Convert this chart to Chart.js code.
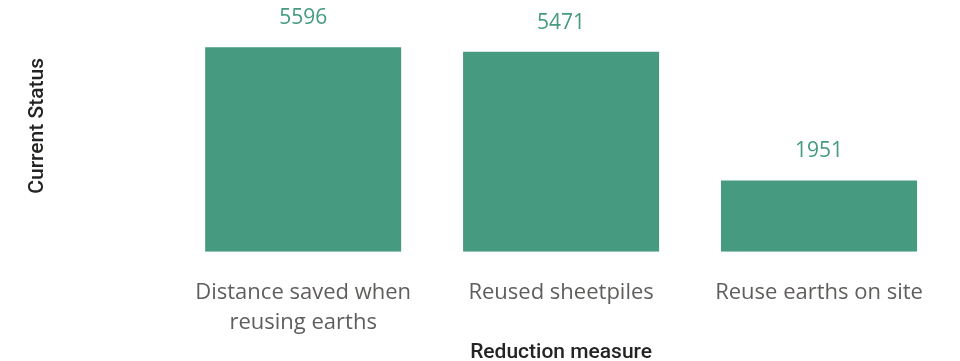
<!DOCTYPE html>
<html>
<head>
<meta charset="utf-8">
<script src="https://cdn.jsdelivr.net/npm/chart.js@4"></script>
<style>
  html, body { margin: 0; padding: 0; background: #fff; }
  #wrap { width: 960px; height: 361px; }
</style>
</head>
<body>
<div id="wrap"><canvas id="barchart"></canvas></div>
<script>
const categories = [
  ['Distance saved when', 'reusing earths'],
  ['Reused sheetpiles'],
  ['Reuse earths on site']
];
const values = [5596, 5471, 1951];
const barColor = '#459A80';

// draws the value above each bar
const valueLabels = {
  id: 'valueLabels',
  afterDatasetsDraw(chart) {
    const c = chart.ctx;
    const meta = chart.getDatasetMeta(0);
    c.save();
    c.font = '21px "Open Sans"';
    c.fillStyle = '#459A80';
    c.textAlign = 'center';
    c.textBaseline = 'middle';
    meta.data.forEach((bar, i) => {
      c.fillText(String(values[i]), bar.x, bar.y - 29);
    });
    c.restore();
  }
};

const ctx = document.getElementById('barchart');
const barchart = new Chart(ctx, {
  type: 'bar',
  data: {
    labels: categories,
    datasets: [{
      label: 'Current Status',
      data: values,
      backgroundColor: barColor,
      borderWidth: 0,
      barPercentage: 0.76,
      categoryPercentage: 1
    }]
  },
  options: {
    responsive: true,
    maintainAspectRatio: false,
    animation: false,
    layout: { padding: { top: 0, right: 12, left: 0, bottom: 0 } },
    plugins: {
      legend: { display: false },
      tooltip: { enabled: false }
    },
    scales: {
      x: {
        grid: { display: false, drawTicks: false },
        border: { display: false },
        ticks: {
          color: '#605E5C',
          padding: 26,
          maxRotation: 0,
          autoSkip: false,
          font: { family: 'Open Sans', size: 22, lineHeight: '30px' }
        },
        title: {
          display: true,
          text: 'Reduction measure',
          color: '#252423',
          padding: { top: -24, bottom: -4 },
          font: { family: 'Roboto', size: 21, weight: '500' }
        }
      },
      y: {
        min: 0,
        max: 6890,
        grid: { display: false, drawTicks: false },
        border: { display: false },
        ticks: { display: false },
        title: {
          display: true,
          text: 'Current Status',
          color: '#252423',
          padding: { top: 25, bottom: 124 },
          font: { family: 'Roboto', size: 21, weight: '500' }
        }
      }
    }
  },
  plugins: [valueLabels]
});
</script>
</body>
</html>
